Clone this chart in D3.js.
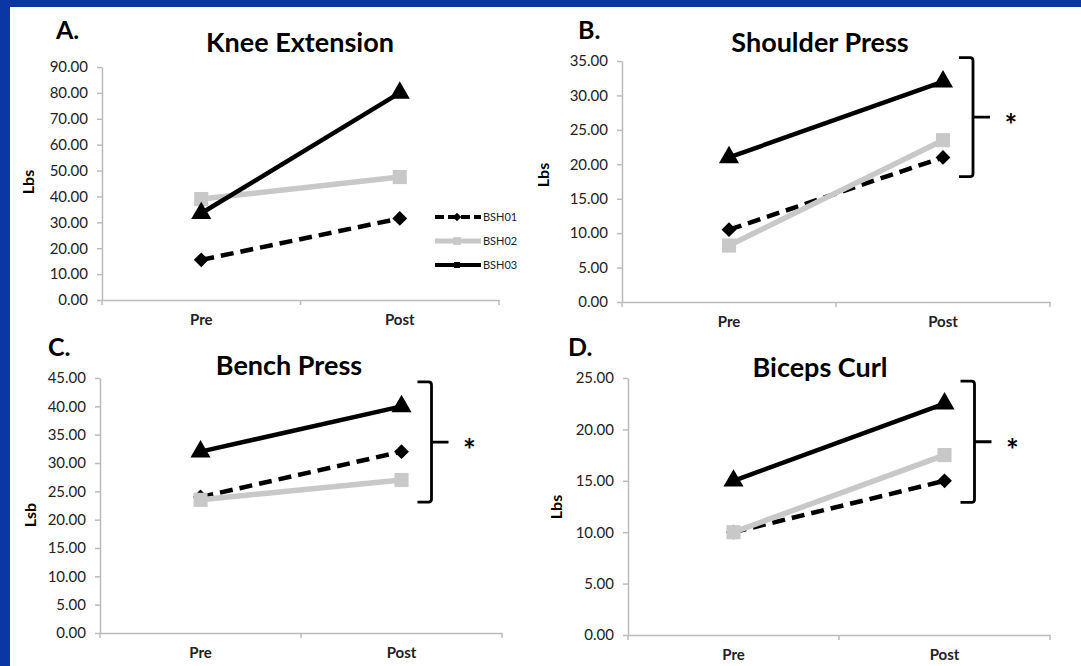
<!DOCTYPE html>
<html>
<head>
<meta charset="utf-8">
<script src="https://d3js.org/d3.v7.min.js"></script>
<style>
  body { margin: 0; background: #0a37a3; }
  svg { display: block; }
</style>
</head>
<body>
<svg id="chart"></svg>
<script>
    // data
    var phases = ["Pre", "Post"];
    var subjects = ["BSH01", "BSH02", "BSH03"];

    var kneeExt = [[15.5, 31.5], [39, 47.5], [33.5, 80]];
    var shoulderPress = [[10.5, 21], [8.2, 23.5], [21, 32]];
    var benchPress = [[24, 32], [23.5, 27], [32, 40]];
    var bicepsCurl = [[10, 15], [10, 17.5], [15, 22.5]];

    var yMaxes = [90, 35, 45, 25];
    var ySteps = [10, 5, 5, 5];
    var titles = ["Knee Extension", "Shoulder Press", "Bench Press", "Biceps Curl"];
    var letters = ["A.", "B.", "C.", "D."];
    var yTitles = ["Lbs", "Lbs", "Lsb", "Lbs"];
    // significance brackets (value range), null = none
    var brackets = [null, [18.2, 35.5], [23.1, 44.3], [12.9, 24.7]];

    var width = 1081, height = 666;
    var svg = d3.select('#chart').attr('width', width).attr('height', height);

    svg.append('rect')
        .attr('x', 10).attr('y', 7)
        .attr('width', width - 10).attr('height', height - 7)
        .attr('fill', '#fff');

    var font = "Lato, 'Open Sans', sans-serif";
    var gray = '#c8c8c8';

    // plot boxes
    var boxes = [
        {left: 102, right: 499, top: 67, bottom: 300, lx: 56, ly: 39, tx: 300, ty: 52, ax: 34, ay: 182},
        {left: 622, right: 1050, top: 61, bottom: 302, lx: 578, ly: 39, tx: 820, ty: 52, ax: 549, ay: 175},
        {left: 100, right: 502, top: 378, bottom: 633, lx: 48, ly: 356, tx: 289, ty: 375, ax: 36, ay: 515},
        {left: 628, right: 1050, top: 378, bottom: 635, lx: 568, ly: 356, tx: 820, ty: 377, ax: 562, ay: 507}
    ];
    var panelData = [kneeExt, shoulderPress, benchPress, bicepsCurl];

    var styles = [
        {stroke: '#000', width: 4.5, dash: '13,7', symbol: 'diamond'},
        {stroke: gray, width: 5.5, dash: null, symbol: 'square'},
        {stroke: '#000', width: 4.5, dash: null, symbol: 'triangle'}
    ];

    function marker(kind) {
        if (kind == 'triangle') return d3.symbol().type(d3.symbolTriangle).size(175)();
        if (kind == 'square') return d3.symbol().type(d3.symbolSquare).size(200)();
        return d3.symbol().type(d3.symbolSquare).size(110)();
    }

    boxes.forEach(function (b, i) {
        var g = svg.append('g');
        var x = d3.scaleBand().domain(phases).range([b.left, b.right]);
        var y = d3.scaleLinear().domain([0, yMaxes[i]]).range([b.bottom, b.top]);
        var cx = function (p) { return x(p) + x.bandwidth() / 2; };

        // y axis
        var yAxis = g.append('g')
            .attr('transform', 'translate(' + b.left + ',0)')
            .call(d3.axisLeft(y)
                .tickValues(d3.range(0, yMaxes[i] + 0.01, ySteps[i]))
                .tickFormat(d3.format('.2f'))
                .tickSize(5).tickPadding(9).tickSizeOuter(0));
        yAxis.selectAll('path, line').attr('stroke', '#bbb').attr('stroke-width', 1.5);
        yAxis.selectAll('text').attr('font-family', font).attr('font-size', 15).attr('fill', '#222');

        // x axis
        var xAxis = g.append('g')
            .attr('transform', 'translate(0,' + b.bottom + ')')
            .call(d3.axisBottom(x).tickSize(0).tickPadding(14).tickSizeOuter(0));
        xAxis.select('path').attr('stroke', '#bbb').attr('stroke-width', 1.5);
        xAxis.selectAll('text').attr('font-family', font).attr('font-size', 15)
            .attr('font-weight', 'bold').attr('fill', '#222');
        xAxis.selectAll('.sep')
            .data([b.left, x('Post'), b.right])
            .enter().append('line')
            .attr('x1', function (d) { return d; }).attr('x2', function (d) { return d; })
            .attr('y1', 0).attr('y2', 5)
            .attr('stroke', '#bbb').attr('stroke-width', 1.5);

        // series
        var line = d3.line()
            .x(function (d, j) { return cx(phases[j]); })
            .y(function (d) { return y(d); });
        panelData[i].forEach(function (vals, s) {
            var st = styles[s];
            g.append('path')
                .attr('d', line(vals))
                .attr('fill', 'none')
                .attr('stroke', st.stroke)
                .attr('stroke-width', st.width)
                .attr('stroke-dasharray', st.dash);
            g.selectAll(null)
                .data(vals)
                .enter().append('path')
                .attr('d', marker(st.symbol))
                .attr('transform', function (d, j) {
                    return 'translate(' + cx(phases[j]) + ',' + y(d) + ')' +
                        (st.symbol == 'diamond' ? ' rotate(45)' : '');
                })
                .attr('fill', st.stroke);
        });

        // labels
        svg.append('text').attr('x', b.lx).attr('y', b.ly).text(letters[i])
            .attr('font-family', font).attr('font-weight', 'bold').attr('font-size', 25);
        svg.append('text').attr('x', b.tx).attr('y', b.ty).text(titles[i])
            .attr('text-anchor', 'middle')
            .attr('font-family', font).attr('font-weight', 'bold').attr('font-size', 27);
        svg.append('text')
            .attr('transform', 'translate(' + b.ax + ',' + b.ay + ') rotate(-90)')
            .attr('text-anchor', 'middle').text(yTitles[i])
            .attr('font-family', font).attr('font-weight', 'bold').attr('font-size', 16);

        // bracket
        if (brackets[i]) {
            var bx = cx('Post') + 16;
            var y0 = y(brackets[i][1]), y1 = y(brackets[i][0]);
            var ym = (y0 + y1) / 2;
            var vx = bx + 14;
            g.append('path')
                .attr('d', 'M' + bx + ',' + y0 + 'H' + (vx - 3) + 'Q' + vx + ',' + y0 + ' ' + vx + ',' + (y0 + 3) +
                    'V' + (y1 - 3) + 'Q' + vx + ',' + y1 + ' ' + (vx - 3) + ',' + y1 + 'H' + bx +
                    'M' + vx + ',' + ym + 'H' + (vx + 17))
                .attr('fill', 'none').attr('stroke', '#000').attr('stroke-width', 2.8);
            g.append('text').attr('x', vx + 38).attr('y', ym + 19).text('*')
                .attr('text-anchor', 'middle').attr('font-weight', 'bold')
                .attr('font-family', font).attr('font-size', 30);
        }
    });

    // legend (panel A)
    var legend = svg.append('g');
    subjects.forEach(function (name, s) {
        var st = styles[s];
        var ly = 217 + s * 24;
        legend.append('line')
            .attr('x1', 435).attr('x2', 481).attr('y1', ly).attr('y2', ly)
            .attr('stroke', st.stroke).attr('stroke-width', st.width - 0.5)
            .attr('stroke-dasharray', st.dash ? '9,4' : null);
        legend.append('path')
            .attr('d', d3.symbol().type(d3.symbolSquare).size(st.symbol == 'square' ? 60 : 36)())
            .attr('transform', 'translate(457,' + ly + ')' + (st.symbol == 'diamond' ? ' rotate(45)' : ''))
            .attr('fill', st.stroke);
        legend.append('text').attr('x', 483).attr('y', ly + 4).text(name)
            .attr('font-family', font).attr('font-size', 11).attr('fill', '#222');
    });
</script>
</body>
</html>
